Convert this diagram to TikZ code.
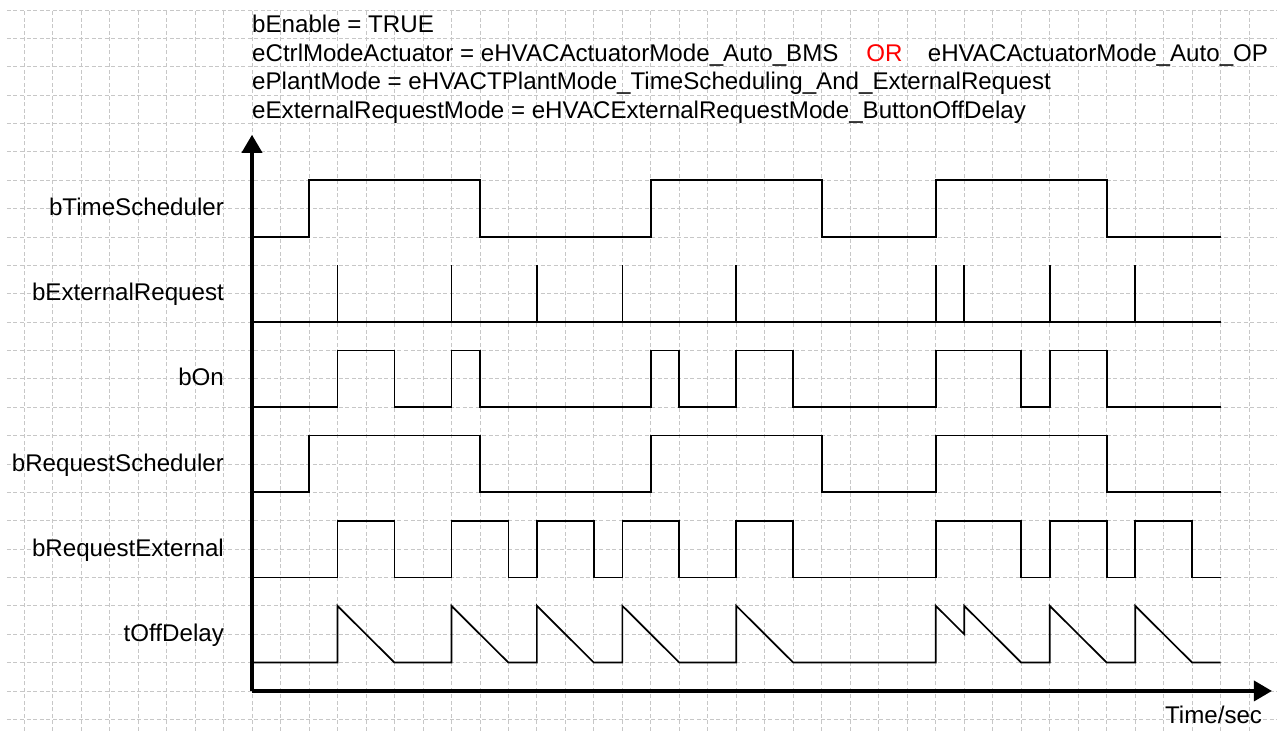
\documentclass[tikz,border=0pt]{standalone}
\usepackage{fontspec}
\setmainfont{Liberation Sans}
\usepackage{xcolor}
\usetikzlibrary{arrows.meta}

\begin{document}
\begin{tikzpicture}[x=1cm,y=0.996cm,
		grd/.style={draw=black!22,line width=0.8pt,dash pattern=on 4pt off 2.5pt},
		sig/.style={draw=black,line width=1.7pt,line join=miter},
		axs/.style={draw=black,line width=3.6pt,
			-{Triangle[length=18pt,width=20pt]}},
		txt/.style={font=\fontsize{24.1}{28}\selectfont,inner sep=0pt},
		lbl/.style={txt,anchor=base east}]

	\useasboundingbox (-8.845,-1.41) rectangle (35.978,24.35);

	%%%%%%%%%%%%%%%%  grid  %%%%%%%%%%%%%%%%
	\foreach \i in {-8,...,35}
		\draw[grd] (\i,-1.41) -- (\i,24);
	\foreach \j in {-1,...,24}
		\draw[grd] (-8.6,\j) -- (35.978,\j);

	%%%%%%%%%%%%%%%%  settings  %%%%%%%%%%%%%%%%
	\node[txt,anchor=base west] (hEnable) at (0,23.19) {bEnable = TRUE};
	\node[txt,anchor=base west] (hCtrl) at (0,22.18)
		{eCtrlModeActuator = eHVACActuatorMode\_Auto\_BMS\hspace{1.15em}\textcolor{red}{OR}\hspace{1.05em}eHVACActuatorMode\_Auto\_OP};
	\node[txt,anchor=base west] (hPlant) at (0,21.18)
		{ePlantMode = eHVACTPlantMode\_TimeScheduling\_And\_ExternalRequest};
	\node[txt,anchor=base west] (hExt) at (0,20.18)
		{eExternalRequestMode = eHVACExternalRequestMode\_ButtonOffDelay};

	%%%%%%%%%%%%%%%%  axes  %%%%%%%%%%%%%%%%
	\coordinate (org) at (0,0);
	\coordinate (ytip) at (0,19.6);
	\coordinate (xtip) at (35.8,0);
	\draw[axs] (org) -- (ytip);
	\draw[axs] (org) -- (xtip);
	\node[txt,anchor=base east] (tsec) at (35.46,-1.14) {Time/sec};

	%%%%%%%%%%%%%%%%  signal names  %%%%%%%%%%%%%%%%
	\node[lbl] (lTime) at (-0.98,16.75) {bTimeScheduler};
	\node[lbl] (lExt) at (-0.98,13.75) {bExternalRequest};
	\node[lbl] (lOn) at (-0.98,10.75) {bOn};
	\node[lbl] (lReqS) at (-0.98,7.75) {bRequestScheduler};
	\node[lbl] (lReqE) at (-0.98,4.75) {bRequestExternal};
	\node[lbl] (lDelay) at (-0.98,1.75) {tOffDelay};

	%%%%%%%%%%%%%%%%  traces  %%%%%%%%%%%%%%%%
	% bTimeScheduler
	\draw[sig] (0,16) -- (2,16) -- (2,18) -- (8,18) -- (8,16) -- (14,16)
		-- (14,18) -- (20,18) -- (20,16) -- (24,16) -- (24,18) -- (30,18)
		-- (30,16) -- (34,16);
	% bExternalRequest, button pulses
	\draw[sig] (0,13) -- (34,13);
	\foreach \t in {3,7,10,13,17,24,25,28,31}
		\draw[sig] (\t,13) -- (\t,15);
	% bOn
	\draw[sig] (0,10) -- (3,10) -- (3,12) -- (5,12) -- (5,10) -- (7,10)
		-- (7,12) -- (8,12) -- (8,10) -- (14,10) -- (14,12) -- (15,12)
		-- (15,10) -- (17,10) -- (17,12) -- (19,12) -- (19,10) -- (24,10)
		-- (24,12) -- (27,12) -- (27,10) -- (28,10) -- (28,12) -- (30,12)
		-- (30,10) -- (34,10);
	% bRequestScheduler
	\draw[sig] (0,7) -- (2,7) -- (2,9) -- (8,9) -- (8,7) -- (14,7)
		-- (14,9) -- (20,9) -- (20,7) -- (24,7) -- (24,9) -- (30,9)
		-- (30,7) -- (34,7);
	% bRequestExternal
	\draw[sig] (0,4) -- (3,4) -- (3,6) -- (5,6) -- (5,4) -- (7,4)
		-- (7,6) -- (9,6) -- (9,4) -- (10,4) -- (10,6) -- (12,6)
		-- (12,4) -- (13,4) -- (13,6) -- (15,6) -- (15,4) -- (17,4)
		-- (17,6) -- (19,6) -- (19,4) -- (24,4) -- (24,6) -- (27,6)
		-- (27,4) -- (28,4) -- (28,6) -- (30,6) -- (30,4) -- (31,4)
		-- (31,6) -- (33,6) -- (33,4) -- (34,4);
	% tOffDelay, restarted by every button pulse
	\draw[sig] (0,1) -- (3,1) -- (3,3) -- (5,1) -- (7,1) -- (7,3)
		-- (9,1) -- (10,1) -- (10,3) -- (12,1) -- (13,1) -- (13,3)
		-- (15,1) -- (17,1) -- (17,3) -- (19,1) -- (24,1) -- (24,3)
		-- (25,2) -- (25,3) -- (27,1) -- (28,1) -- (28,3) -- (30,1)
		-- (31,1) -- (31,3) -- (33,1) -- (34,1);
\end{tikzpicture}
\end{document}
